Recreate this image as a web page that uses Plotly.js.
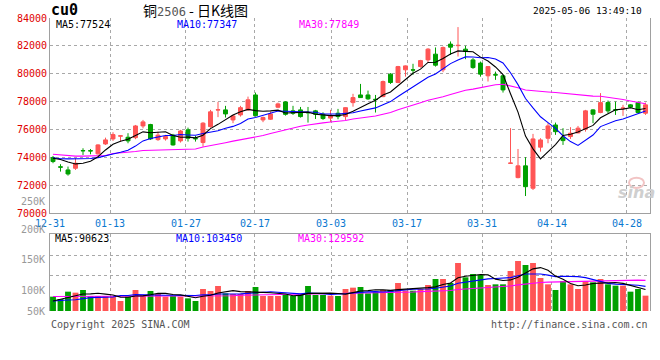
<!DOCTYPE html>
<html><head><meta charset="utf-8">
<script src="https://cdn.plot.ly/plotly-3.0.1.min.js"></script>
<style>html,body{margin:0;padding:0;background:#fff;}#chart{width:660px;height:360px;}</style>
</head><body><div id="chart"></div>
<script>
// ---------- data ----------
const dates = ['12-31','01-02','01-03','01-06','01-07','01-08','01-09','01-10','01-13','01-14',
'01-15','01-16','01-17','01-20','01-21','01-22','01-23','01-24','01-27','02-05',
'02-06','02-07','02-10','02-11','02-12','02-13','02-14','02-17','02-18','02-19',
'02-20','02-21','02-24','02-25','02-26','02-27','02-28','03-03','03-04','03-05',
'03-06','03-07','03-10','03-11','03-12','03-13','03-14','03-17','03-18','03-19',
'03-20','03-21','03-24','03-25','03-26','03-27','03-28','03-31','04-01','04-02',
'04-03','04-07','04-08','04-09','04-10','04-11','04-14','04-15','04-16','04-17',
'04-18','04-21','04-22','04-23','04-24','04-25','04-28','04-29','04-30','05-06'];

const openP = [74000,73340,73120,73240,74510,74500,74270,74980,75340,75540,
75460,75430,76270,76370,75290,75340,75610,75200,75990,75370,
75080,76220,77410,77420,76700,77060,77420,78490,76700,76750,
77610,77990,77350,77420,77235,77350,77110,76830,77180,76940,
77940,78490,78490,78180,78370,79980,79380,80290,80290,80520,
81000,81410,80290,82130,82020,81770,81000,80770,79860,79940,
79860,73590,72570,73410,71810,74750,75390,76340,75430,75510,
75770,76040,77420,77230,77940,77430,77530,77780,77940,77180];

const highP = [74120,73530,73360,73960,74670,74620,74960,75430,75820,75600,
75750,76340,76700,76420,75860,75630,75700,75990,76150,75560,
76540,77420,77990,77710,77060,77710,78370,78660,76940,77300,
77940,78040,77710,77630,77630,77420,77250,77420,77490,77600,
78570,79280,78800,78490,79520,80050,80570,80600,80720,81000,
81840,81890,81960,82320,83350,82010,81130,80880,80540,80160,
79930,76110,74620,74030,75700,75390,76470,76510,76110,76180,
76270,77420,77470,78620,78090,78010,77780,77830,78010,77940];

const lowP = [73600,73000,72710,73120,74190,74240,74220,74910,75200,75150,
75030,75320,76100,75270,75200,75220,74860,75080,75150,75150,
74790,76150,76900,76870,76470,76940,77370,76940,76540,76700,
77540,77010,77060,76870,76510,76770,76700,76540,76750,76700,
77650,78290,78140,77230,78330,79280,79330,79800,79930,80450,
80810,80520,80120,81360,81240,81050,80360,79800,79450,79570,
78660,73550,72520,71250,71680,74430,75030,75630,74910,75340,
75750,75860,76470,77180,77180,77060,76990,77540,77180,77060];

const closeP = [73720,73320,72830,73600,74490,74480,74910,75270,75650,75560,
75200,76270,76560,75340,75610,75510,74910,75910,75390,75350,
76470,77280,77430,77130,76990,77580,78140,77010,76870,77130,
77850,77100,77180,76940,77215,77110,76800,76990,76940,77580,
78300,78300,78210,78160,79450,79380,80520,80570,80270,80950,
81770,80620,81890,81910,82040,81600,80450,79980,80520,79920,
78850,73610,73410,71920,75340,75270,76270,75860,75220,75750,
76110,77350,77110,77940,77350,77410,77550,77610,77230,77780];

const volume = [60200,50400,81200,77000,88200,63000,63000,63000,60200,42000,
60200,88200,67200,84000,71400,60200,63000,60200,53200,42000,
92400,84000,105000,74200,71400,71400,84000,100800,63000,63000,
63000,67200,63000,71400,105000,67200,67200,64400,63000,92400,
98000,100800,74200,81200,88200,88200,117600,85400,85400,92400,
109200,134400,134400,117600,201600,141400,155400,151200,109200,112000,
112000,168000,210000,193200,201600,138600,112000,88200,126000,112000,
92400,126000,120400,134400,112000,106400,106400,81200,92400,64400];

const ma5 = [73960,73870,73690,73550,73592,73744,74062,74550,74960,75174,
75318,75590,75848,75786,75796,75858,75586,75456,75466,75414,
75606,76080,76384,76732,77060,77282,77454,77370,77318,77346,
77400,77192,77226,77240,77257,77109,77049,77011,77011,77084,
77322,77622,77866,78110,78484,78700,79144,79616,80038,80338,
80816,80836,81100,81428,81646,81612,81578,81196,80918,80494,
79944,78576,77262,75542,74626,73910,74442,74932,75592,75674,
75842,76058,76308,76852,77172,77432,77472,77572,77430,77516];

const ma10 = [73990,73920,73910,73910,73910,73940,74000,74160,74265,74383,
74531,74826,75199,75373,75485,75588,75588,75652,75626,75605,
75732,75833,75920,76099,76237,76444,76767,76877,77025,77203,
77341,77323,77298,77279,77302,77255,77121,77119,77126,77171,
77216,77336,77439,77561,77784,78011,78383,78741,79074,79411,
79758,79990,80358,80733,80992,81214,81207,81148,81173,81070,
80778,80077,79229,78230,77560,76927,76509,76097,75567,75150,
74876,75250,75620,76222,76423,76637,76765,76940,77141,77344];

const ma30 = [74243,74208,74122,74108,74108,74122,74143,74157,74301,74337,
74408,74444,74516,74537,74552,74552,74552,74566,74602,74623,
74760,74850,74960,75070,75180,75280,75380,75470,75580,75730,
75868,75994,76139,76250,76341,76429,76492,76549,76592,76660,
76763,76831,76886,76980,77108,77237,77424,77579,77742,77928,
78105,78216,78365,78524,78693,78827,78904,79003,79124,79217,
79251,79134,79009,78841,78779,78717,78700,78662,78605,78544,
78471,78439,78402,78395,78325,78259,78160,78062,77960,77855];

const volMa5 = [42000,50000,56000,63000,71400,72000,74500,70800,67500,58200,
57700,62700,63600,68300,74200,74200,69200,67800,61600,55700,
62200,66400,75300,79500,85400,81200,81200,80400,78100,76400,
74800,71400,63800,65500,73900,74800,74800,75000,73400,70800,
77000,83700,85700,89300,88500,86500,89900,92100,93000,93800,
98000,101400,111200,117600,139400,145900,150100,153400,151800,133800,
128000,130500,142200,159000,177000,182300,171100,146700,133300,115400,
106100,108900,115400,117000,117000,119800,115900,108100,99700,90200];

const volMa10 = [42000,45000,46000,47000,52000,56000,57000,58000,59000,64800,
64800,68600,67200,67900,66200,65900,65900,65700,65000,65000,
68200,67800,71500,70600,70600,71700,73800,77800,78800,80900,
78000,76300,72100,71800,75200,74800,73100,69400,69400,72400,
75900,79200,80400,81300,79700,81800,86800,88900,91100,91100,
92300,95600,101600,105300,116600,121900,125700,132300,134700,136600,
136900,140300,147800,155400,155400,155100,150800,144500,146200,146200,
144200,140000,131000,125200,116200,113000,112400,111700,108400,103600];

const volMa30 = [61000,61000,61000,61000,61000,61000,61000,61000,61000,61000,
61000,61000,61000,61000,61000,62000,62000,62000,62000,62000,
62000,64000,64000,64000,64000,66000,67000,68000,69000,70200,
70300,70900,70300,70100,70700,70800,70900,71000,71100,72800,
74000,74400,74700,74600,75100,76100,77900,78700,79800,81500,
82000,83700,84700,86100,90500,92800,95200,96900,98400,100100,
101700,105000,109900,114000,117200,119600,121100,121900,124000,124600,
124500,125300,126800,128600,129400,130000,129600,129500,129700,128800];

const dateTickLabels = ['12-31','01-13','01-27','02-17','03-03','03-17','03-31','04-14','04-28'];
const priceTicks = [70000,72000,74000,76000,78000,80000,82000,84000];
const volTickLabels = ['250K','200K','150K','100K','50K'];
const priceMaLabels = ['MA5:77524','MA10:77347','MA30:77849'];
const volMaLabels = ['MA5:90623','MA10:103450','MA30:129592'];
const headerSymbol = 'cu0';
const headerTitle = '铜<span style="color:#555;font-family:DejaVu Sans Mono;font-size:12px">2506</span> - 日K线图';
const headerTime = '2025-05-06 13:49:10';
const footerLeft = 'Copyright 2025 SINA.COM';
const footerRight = 'http://finance.sina.com.cn';

// ---------- layout constants (positions / styles) ----------
const RED = '#ff5555', GREEN = '#00a000';
const GRID = '#a8a8a8', FRAME = '#a0a0a0';
const MONO = 'DejaVu Sans Mono';
const dateGridPos = [-0.39, 7.6, 17.73, 26.93, 37.07, 47.2, 57.2, 66.53, 76.53];
const volGridVals = [232260, 148260];
const volLabelY = [0.3754, 0.2765, 0.1741, 0.0683, 0.0];
const maColors = ['#000000', '#0000ff', '#ff00ff'];
const maLabelX = [0.0067, 0.2083, 0.4117];

const idx = dates.map((d, i) => i);
const barColors = closeP.map((c, i) => (c >= openP[i] ? RED : GREEN));

const traces = [
  {type:'candlestick', x: idx, open: openP, high: highP, low: lowP, close: closeP,
   xaxis:'x', yaxis:'y', whiskerwidth: 0, hoverinfo:'skip',
   increasing:{line:{color:RED, width:1}, fillcolor:RED},
   decreasing:{line:{color:GREEN, width:1}, fillcolor:GREEN}},
  {type:'scatter', mode:'lines', x: idx, y: ma30, xaxis:'x', yaxis:'y', line:{color:maColors[2], width:1.1}, hoverinfo:'skip'},
  {type:'scatter', mode:'lines', x: idx, y: ma10, xaxis:'x', yaxis:'y', line:{color:maColors[1], width:1.1}, hoverinfo:'skip'},
  {type:'scatter', mode:'lines', x: idx, y: ma5, xaxis:'x', yaxis:'y', line:{color:maColors[0], width:1.1}, hoverinfo:'skip'},
  {type:'bar', x: idx, y: volume, xaxis:'x2', yaxis:'y2', marker:{color: barColors, line:{width:0}}, hoverinfo:'skip'},
  {type:'scatter', mode:'lines', x: idx, y: volMa30, xaxis:'x2', yaxis:'y2', line:{color:maColors[2], width:1.1}, hoverinfo:'skip'},
  {type:'scatter', mode:'lines', x: idx, y: volMa10, xaxis:'x2', yaxis:'y2', line:{color:maColors[1], width:1.1}, hoverinfo:'skip'},
  {type:'scatter', mode:'lines', x: idx, y: volMa5, xaxis:'x2', yaxis:'y2', line:{color:maColors[0], width:1.1}, hoverinfo:'skip'}
];

const annotations = [];
function ann(text, x, y, xanchor, color, size, extra) {
  annotations.push(Object.assign({text, x, y, xref:'paper', yref:'paper', xanchor, yanchor:'middle',
    showarrow:false, font:{family:MONO, size, color}}, extra || {}));
}
ann('<b>' + headerSymbol + '</b>', -0.002, 1.0273, 'left', '#000', 15);
annotations.push({text: headerTitle, x: 0.152, y: 1.0273, xref:'paper', yref:'paper', xanchor:'left', yanchor:'middle',
  showarrow:false, font:{family:'Noto Sans CJK SC', size:14, color:'#000'}});
ann(headerTime, 0.99, 1.0273, 'right', '#000', 9.5);
priceMaLabels.forEach((t, i) => ann(t, maLabelX[i], 0.9778, 'left', maColors[i], 10));
volMaLabels.forEach((t, i) => ann(t, maLabelX[i] - 0.002, 0.2474, 'left', maColors[i], 10));
volTickLabels.forEach((t, i) => ann(t, -0.005, volLabelY[i], 'right', '#999', 10));
ann(footerLeft, -0.002, -0.0444, 'left', '#555', 10);
ann(footerRight, 1.0, -0.0444, 'right', '#555', 10);
annotations.push({text:'<i><b>sina</b></i>', x:0.977, y:0.405, xref:'paper', yref:'paper', xanchor:'center', yanchor:'middle',
  showarrow:false, font:{family:'DejaVu Sans', size:16, color:'#cfcfcf'}});

const layout = {
  width: 660, height: 360,
  margin: {l:50, r:10, t:18, b:49, pad:0},
  paper_bgcolor:'#ffffff', plot_bgcolor:'#ffffff',
  showlegend:false, hovermode:false, dragmode:false,
  boxgap: 0.25, bargap: 0.22,
  xaxis: {anchor:'y', range:[-0.4, 79.6], tickmode:'array', tickvals: dateGridPos, ticktext: dateTickLabels,
    showgrid:true, gridcolor:GRID, griddash:'dot', gridwidth:1, zeroline:false,
    showline:true, linecolor:FRAME, linewidth:1, ticks:'', ticklabelstandoff:1,
    tickfont:{family:MONO, size:10, color:'#0a78d0'}, rangeslider:{visible:false}, fixedrange:true},
  yaxis: {domain:[0.3328, 1], range:[70000, 84000], tickmode:'array', tickvals: priceTicks,
    ticktext: priceTicks.map(String), showgrid:true, gridcolor:GRID, griddash:'dot', gridwidth:1,
    zeroline:false, showline:true, mirror:true, linecolor:FRAME, linewidth:1, ticks:'',
    tickfont:{family:MONO, size:10, color:'#e00000'}, fixedrange:true},
  xaxis2: {anchor:'y2', matches:'x', range:[-0.4, 79.6], tickmode:'array', tickvals: dateGridPos,
    showticklabels:false, showgrid:true, gridcolor:GRID, griddash:'dot', gridwidth:1, zeroline:false,
    showline:true, side:'top', linecolor:FRAME, linewidth:1, ticks:'', fixedrange:true},
  yaxis2: {domain:[0, 0.2618], range:[0, 322140], tickmode:'array', tickvals: volGridVals,
    showticklabels:false, showgrid:true, gridcolor:GRID, griddash:'dot', gridwidth:1,
    zeroline:false, showline:true, mirror:true, linecolor:FRAME, linewidth:1, ticks:'', fixedrange:true},
  annotations: annotations,
  shapes: [
    {type:'circle', xref:'paper', yref:'paper', x0:0.965, x1:0.99, y0:0.42, y1:0.455,
     line:{color:'#f2c4c4', width:2}, fillcolor:'rgba(0,0,0,0)'}
  ]
};

Plotly.newPlot('chart', traces, layout, {staticPlot:true, displayModeBar:false});
</script>
</body></html>
